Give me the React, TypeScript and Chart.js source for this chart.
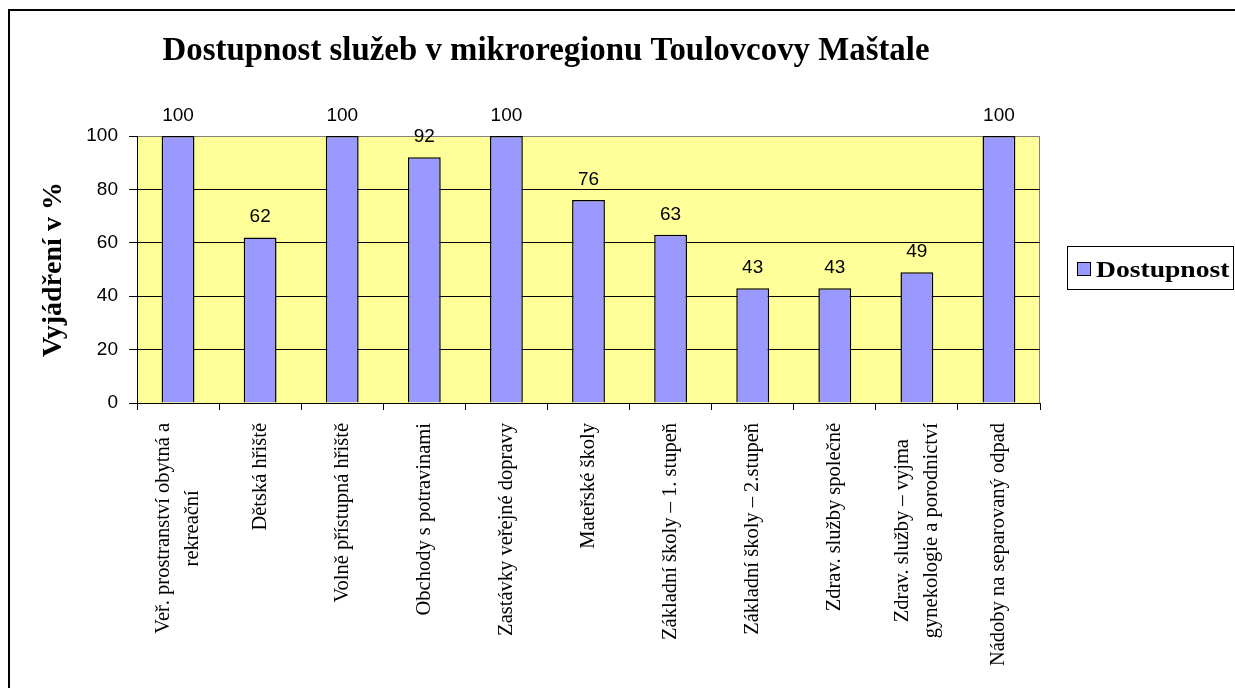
import React, { useEffect, useRef } from "react";
import { Chart, registerables } from "chart.js";

Chart.register(...registerables);

const chartTitle = "Dostupnost služeb v mikroregionu Toulovcovy Maštale";
const yAxisTitle = "Vyjádření v %";
const seriesName = "Dostupnost";
const categories: (string | string[])[] = [
  ["Veř. prostranství obytná a", "rekreační"],
  "Dětská hřiště",
  "Volně přístupná hřiště",
  "Obchody s potravinami",
  "Zastávky veřejné dopravy",
  "Mateřské školy",
  "Základní školy – 1. stupeň",
  "Základní školy – 2.stupeň",
  "Zdrav. služby společně",
  ["Zdrav. služby – vyjma", "gynekologie a porodnictví"],
  "Nádoby na separovaný odpad",
];
const values = [100, 62, 100, 92, 100, 76, 63, 43, 43, 49, 100];
const yMin = 0;
const yMax = 100;
const yStep = 20;

const BAR_COLOR = "#9999FF";
const PLOT_BG = "#FFFF99";
const SERIF = "'Liberation Serif', 'Times New Roman', serif";
const SANS = "'Liberation Sans', Arial, sans-serif";
const LABEL_FONT = `20.5px ${SERIF}`;
const LABEL_LINE_GAP = 29;
const LABEL_OFFSET = 20;
const TITLE_CENTER_X = 546;
const TITLE_BASELINE = 60;
const TITLE_WIDTH = 767;

function drawStretched(
  ctx: CanvasRenderingContext2D,
  text: string,
  x: number,
  y: number,
  font: string,
  sx: number,
  align: CanvasTextAlign
) {
  ctx.save();
  ctx.font = font;
  ctx.textAlign = align;
  ctx.textBaseline = "alphabetic";
  ctx.fillStyle = "#000";
  ctx.translate(x, y);
  ctx.scale(sx, 1);
  ctx.fillText(text, 0, 0);
  ctx.restore();
}

const decorPlugin = {
  id: "decor",
  beforeDraw(chart: any) {
    const { ctx, chartArea } = chart;
    const { left, top, right, bottom } = chartArea;
    ctx.save();
    ctx.fillStyle = "#fff";
    ctx.fillRect(0, 0, chart.width, chart.height);
    // outer frame
    ctx.fillStyle = "#000";
    ctx.fillRect(8, 9, 2, chart.height);
    ctx.fillRect(8, 9, chart.width, 2);
    // plot area
    ctx.fillStyle = PLOT_BG;
    ctx.fillRect(left, top, right - left, bottom - top);
    ctx.strokeStyle = "#808080";
    ctx.lineWidth = 1;
    ctx.strokeRect(left + 0.5, top + 0.5, right - left - 1, bottom - top);
    ctx.restore();
  },
  afterDraw(chart: any) {
    const { ctx, chartArea } = chart;
    // title
    {
      const font = `bold 33px ${SERIF}`;
      ctx.save();
      ctx.font = font;
      const w = ctx.measureText(chartTitle).width;
      ctx.restore();
      drawStretched(ctx, chartTitle, TITLE_CENTER_X, TITLE_BASELINE, font, TITLE_WIDTH / w, "center");
    }
    // y axis title
    ctx.save();
    ctx.translate(61, (chartArea.top + chartArea.bottom) / 2);
    ctx.rotate(-Math.PI / 2);
    ctx.font = `bold 28px ${SERIF}`;
    ctx.textAlign = "center";
    ctx.textBaseline = "alphabetic";
    ctx.fillStyle = "#000";
    ctx.fillText(yAxisTitle, 0, 0);
    ctx.restore();
    // category labels (centered multi-line, rotated)
    const xs = chart.scales.x;
    ctx.save();
    ctx.font = LABEL_FONT;
    ctx.fillStyle = "#000";
    categories.forEach((lab, i) => {
      const lines = Array.isArray(lab) ? lab : [lab];
      const maxW = Math.max(...lines.map((l) => ctx.measureText(l).width));
      const x = xs.getPixelForTick(i);
      const yc = xs.top + LABEL_OFFSET + maxW / 2;
      lines.forEach((ln, j) => {
        const off = (j - (lines.length - 1) / 2) * LABEL_LINE_GAP;
        ctx.save();
        ctx.translate(x + off, yc);
        ctx.rotate(-Math.PI / 2);
        ctx.textAlign = "center";
        ctx.textBaseline = "middle";
        ctx.fillText(ln, 0, 0);
        ctx.restore();
      });
    });
    ctx.restore();
    // data labels
    const meta = chart.getDatasetMeta(0);
    ctx.save();
    ctx.font = `19px ${SANS}`;
    ctx.textAlign = "center";
    ctx.textBaseline = "alphabetic";
    ctx.fillStyle = "#000";
    meta.data.forEach((bar: any, i: number) => {
      ctx.fillText(String(values[i]), bar.x, bar.y - 15);
    });
    ctx.restore();
    // legend
    ctx.save();
    const lx = chartArea.right + 27;
    const ly = 246;
    ctx.strokeStyle = "#000";
    ctx.lineWidth = 1;
    ctx.strokeRect(lx + 0.5, ly + 0.5, 166, 43);
    ctx.fillStyle = BAR_COLOR;
    ctx.fillRect(lx + 10, ly + 16, 14, 14);
    ctx.strokeRect(lx + 10.5, ly + 16.5, 13, 13);
    ctx.restore();
    drawStretched(ctx, seriesName, lx + 29, ly + 31, `bold 24px ${SERIF}`, 1.15, "left");
  },
};

export default function App() {
  const ref = useRef<HTMLCanvasElement>(null);
  useEffect(() => {
    if (!ref.current) return;
    const chart = new Chart(ref.current, {
      type: "bar",
      data: {
        labels: categories,
        datasets: [
          {
            label: seriesName,
            data: values,
            backgroundColor: BAR_COLOR,
            borderColor: "#000",
            borderWidth: 1.5,
            categoryPercentage: 1,
            barPercentage: 0.4,
          },
        ],
      },
      options: {
        animation: false,
        responsive: false,
        maintainAspectRatio: false,
        layout: { padding: { top: 136, right: 195, bottom: 0, left: 0 } },
        plugins: {
          legend: { display: false },
          title: { display: false },
          tooltip: { enabled: false },
        },
        scales: {
          x: {
            offset: true,
            afterFit: (s: any) => {
              s.height = 285;
            },
            grid: {
              offset: true,
              drawOnChartArea: false,
              drawTicks: true,
              tickLength: 7,
              tickColor: "#000",
              color: "#000",
            },
            border: { display: true, color: "#000", width: 1 },
            ticks: {
              minRotation: 90,
              maxRotation: 90,
              autoSkip: false,
              padding: 13,
              color: "rgba(0,0,0,0)",
              font: { family: SERIF, size: 19, lineHeight: 1.4 },
            },
          },
          y: {
            min: yMin,
            max: yMax,
            afterFit: (s: any) => {
              s.width = 137;
            },
            grid: {
              color: (c: any) => (c.tick && c.tick.value === yMax ? "#808080" : "#000"),
              lineWidth: 1,
              drawTicks: true,
              tickLength: 8,
              tickColor: "#000",
            },
            border: { display: true, color: "#000", width: 1 },
            ticks: {
              stepSize: yStep,
              padding: 11,
              color: "#000",
              font: { family: SANS, size: 19 },
            },
          },
        },
      },
      plugins: [decorPlugin],
    });
    return () => chart.destroy();
  }, []);
  return (
    <div style={{ position: "fixed", left: 0, top: 0, width: 1235, height: 688 }}>
      <canvas ref={ref} width={1235} height={688} style={{ width: 1235, height: 688, display: "block" }} />
    </div>
  );
}
